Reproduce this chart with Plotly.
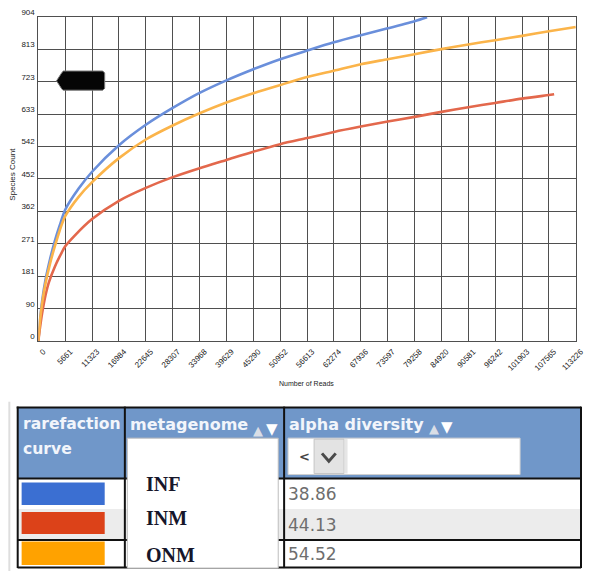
import plotly.graph_objects as go

# ---------------- data ----------------
inf_reads = [0, 400, 800, 1500, 2500, 3500, 4500, 5661, 8493, 11323, 16984, 22645, 28307,
             33968, 39629, 45290, 50952, 56613, 62274, 67936, 73597, 79258, 81900]
inf_species = [0, 65, 112, 170, 230, 280, 322, 366, 425, 472, 546, 603, 650,
               692, 727, 758, 786, 810, 833, 853, 872, 892, 903]

inm_reads = [0, 400, 800, 1500, 2200, 3500, 4900, 5661, 7665, 11323, 16984, 22645, 28307,
             33968, 39629, 45290, 50952, 56613, 62274, 67936, 73597, 79258, 84920, 90581,
             96242, 101903, 107565, 108660]
inm_species = [0, 42, 78, 127, 163, 208, 246, 264, 294, 340, 391, 427, 457,
               482, 505, 528, 549, 566, 583, 598, 612, 625, 639, 652,
               664, 676, 686, 688]

onm_reads = [0, 400, 800, 1500, 2500, 3500, 4500, 5661, 8493, 11323, 16984, 22645, 28307,
             33968, 39629, 45290, 50952, 56613, 62274, 67936, 73597, 79258, 84920, 90581,
             96242, 101903, 107565, 113226]
onm_species = [0, 62, 105, 160, 218, 265, 308, 348, 402, 443, 510, 562, 601,
               635, 665, 691, 714, 736, 754, 772, 786, 800, 814, 827,
               839, 851, 864, 876]

x_tick_labels = ["0", "5661", "11323", "16984", "22645", "28307", "33968", "39629", "45290",
                 "50952", "56613", "62274", "67936", "73597", "79258", "84920", "90581",
                 "96242", "101903", "107565", "113226"]
y_tick_labels = ["0", "90", "181", "271", "362", "452", "542", "633", "723", "813", "904"]

metagenomes = ["INF", "INM", "ONM"]
alpha_diversity = [38.86, 44.13, 54.52]
line_colors = ["#6a8fdb", "#e3684c", "#fbb44a"]
swatch_colors = ["#3b6fd2", "#dc4219", "#ffa200"]
series = [(inf_reads, inf_species), (inm_reads, inm_species), (onm_reads, onm_species)]

W, H = 592, 571


def X(px):
    return px / W


def Y(py):
    return 1 - py / H


fig = go.Figure()
for (xs, ys), name, col in zip(series, metagenomes, line_colors):
    fig.add_trace(go.Scatter(x=xs, y=ys, name=name, mode="lines",
                             line=dict(color=col, width=2.6, shape="spline", smoothing=0.8),
                             hoverinfo="skip", showlegend=False))

grid = "#4f4f4f"
tickfont = dict(family="Liberation Sans, Arial", size=8, color="#222")
fig.update_layout(
    width=W, height=H, autosize=False,
    margin=dict(l=0, r=0, t=0, b=0),
    paper_bgcolor="white", plot_bgcolor="white",
    xaxis=dict(domain=[X(39), X(585.7)], range=[0, float(x_tick_labels[-1])],
               tickmode="array", tickvals=[float(t) for t in x_tick_labels], ticktext=x_tick_labels,
               tickangle=-45, tickfont=tickfont, showgrid=True, gridcolor=grid, gridwidth=1,
               showline=True, linecolor=grid, mirror=True, zeroline=False, ticks="",
               ticklabelshift=5, ticklabelstandoff=2, ticklabeloverflow="allow", fixedrange=True),
    yaxis=dict(domain=[Y(337.3), Y(8)], range=[0, float(y_tick_labels[-1])],
               tickmode="array", tickvals=[float(t) for t in y_tick_labels], ticktext=y_tick_labels,
               tickfont=tickfont, showgrid=True, gridcolor=grid, gridwidth=1,
               showline=True, linecolor=grid, mirror=True, zeroline=False, ticks="",
               ticklabelshift=-5, ticklabelstandoff=1, ticklabeloverflow="allow", fixedrange=True),
)

ann = []
shapes = []


def text(px, py, s, font, xa="center", ya="middle", angle=0):
    ann.append(dict(x=X(px), y=Y(py), xref="paper", yref="paper", text=s, showarrow=False,
                    xanchor=xa, yanchor=ya, textangle=angle, font=font))


# axis titles
text(13, 167.5, "Species Count", dict(family="Liberation Sans, Arial", size=8, color="#222"), angle=-90)
text(312, 380, "Number of Reads", dict(family="Liberation Sans, Arial", size=7, color="#222"))

# black tag marker
tag = [(57.5, 73), (63, 64.5), (64.5, 63), (104.5, 63), (106.5, 65), (106.5, 80.5),
       (104.5, 82.5), (64.5, 82.5), (63, 81.5)]
path = "M " + " L ".join(f"{X(a):.5f},{Y(b):.5f}" for a, b in tag) + " Z"
shapes.append(dict(type="path", xref="paper", yref="paper", path=path,
                   fillcolor="#050505", line=dict(color="#7a7a7a", width=1)))


def rect(x0, y0, x1, y1, fill, lc=None, lw=0):
    shapes.append(dict(type="rect", xref="paper", yref="paper",
                       x0=X(x0), x1=X(x1), y0=Y(y1), y1=Y(y0), fillcolor=fill,
                       line=dict(color=lc or fill, width=lw)))


def line(x0, y0, x1, y1, color="#111", width=2):
    shapes.append(dict(type="line", xref="paper", yref="paper",
                       x0=X(x0), x1=X(x1), y0=Y(y0), y1=Y(y1), line=dict(color=color, width=width)))


# ---------------- table ----------------
line(9.5, 399, 9.5, 571, color="#dedede", width=2)
rect(18, 405, 591, 477, "#7097c9")
row_tops = [477, 508, 539.5]
row_bots = [508, 539.5, 567.5]
row_bg = ["#ffffff", "#ececec", "#ffffff"]
for t, b, bg in zip(row_tops, row_bots, row_bg):
    rect(18, t, 591, b, bg)

# swatches
sw = [(481, 504), (511, 533.5), (541, 565)]
for (t, b), c in zip(sw, swatch_colors):
    rect(22, t, 106.5, b, c)

# borders
line(17, 405, 591, 405)
line(18, 404, 18, 568)
line(127, 404, 127, 568)
line(289, 404, 289, 568)
line(591, 404, 591, 568)
line(18, 477, 591, 477)
line(18, 539.5, 591, 539.5)
line(18, 567.5, 591, 567.5)

# header texts
hfont = dict(family="DejaVu Sans", size=16, color="#f2f5fb")
text(21, 422, "<b>rarefaction</b>", dict(family="DejaVu Sans", size=15.6, color="#f2f5fb"), xa="left")
text(21, 447, "<b>curve</b>", dict(family="DejaVu Sans", size=15.6, color="#f2f5fb"), xa="left")
text(130, 422, "<b>metagenome</b>", hfont, xa="left")
text(292, 422, "<b>alpha diversity</b>", hfont, xa="left")
for ux, dx, yy in [(262, 277, 427), (441, 455, 425)]:
    text(ux, yy + 1, "▲", dict(family="DejaVu Sans", size=13, color="#d9dee6"))
    text(dx, yy, "▼", dict(family="DejaVu Sans", size=15, color="#ffffff"))

# alpha diversity filter widget
rect(293, 436, 529, 473, "#ffffff", "#d0d0d0", 1)
rect(319.5, 437, 350, 472, "#e3e3e3", "#c4c4c4", 1)
line(352, 437, 352, 472, color="#e6e6e6", width=3)
text(310, 455, "<b>&lt;</b>", dict(family="DejaVu Sans", size=13, color="#444"))
shapes.append(dict(type="path", xref="paper", yref="paper",
                   path=f"M {X(327.5)},{Y(451.5)} L {X(334.5)},{Y(459.5)} L {X(341.5)},{Y(451.5)}",
                   line=dict(color="#4a4a4a", width=3)))

# values
for v, t, b in zip(alpha_diversity, row_tops, row_bots):
    text(291, (t + b) / 2 + 0.5, f"{v:.2f}", dict(family="DejaVu Sans", size=17, color="#6e6e6e"), xa="left")

# metagenome dropdown overlay
rect(129.5, 436, 283, 568, "#ffffff", "#bdbdbd", 1)
name_y = [483, 517, 555]
for nm, yy in zip(metagenomes, name_y):
    text(146, yy, f"<b>{nm}</b>", dict(family="Liberation Serif, Times New Roman", size=20, color="#16162a"),
         xa="left")

fig.update_layout(annotations=ann, shapes=shapes)
fig.write_html("out.html", config={"displayModeBar": False},
               post_script="document.body.style.margin='0px';document.body.style.overflow='hidden';")
